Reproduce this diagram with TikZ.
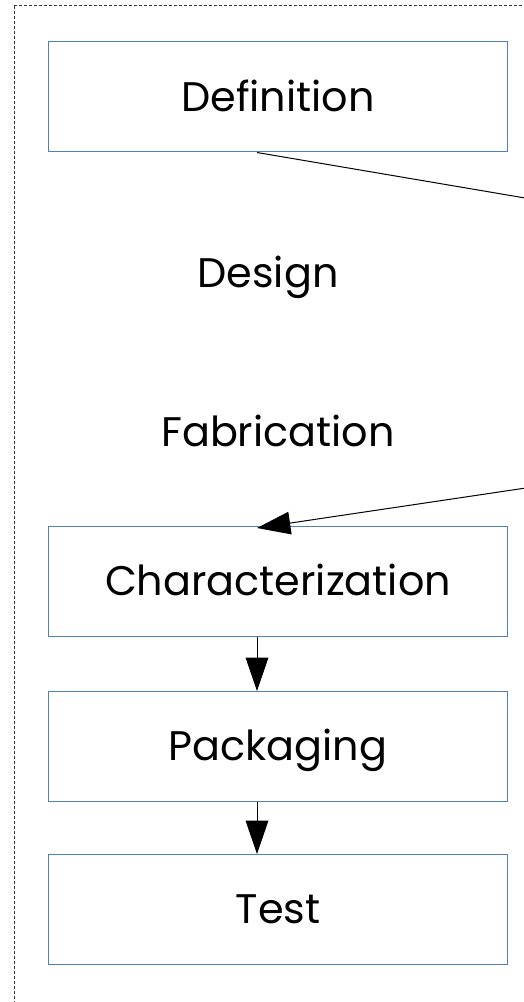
\documentclass[tikz,border=0pt]{standalone}
\usepackage{fontspec}
\setmainfont{Poppins}
\usetikzlibrary{arrows.meta,positioning}

\definecolor{boxblue}{RGB}{79,129,189}
\tikzset{
 stage/.style={draw=boxblue,line width=0.75pt,minimum width=344pt,minimum height=82.5pt,
  inner sep=0pt,text height=21.5pt,text depth=0pt,font=\fontsize{31}{36}\selectfont},
 label/.style={inner sep=0pt,text height=21.5pt,text depth=0pt,font=\fontsize{31}{36}\selectfont},
 flow/.style={line width=0.75pt,-{Triangle[length=25pt,width=17pt]}}
}

\begin{document}
\begin{tikzpicture}[x=0.75pt,y=-0.75pt]
 \useasboundingbox (0,0) rectangle (524,1002);
 \clip (0,0) rectangle (524,1002);

 % frame
 \draw[gray!40!black,line width=0.75pt,dash pattern=on 2.25pt off 1.5pt] (14,6) rectangle (700,1004);

 % boxes
 \node[stage] (defn) at (278,97) {Definition};
 \node[stage] (char) at (278,581.5) {Characterization};
 \node[stage,below=40.5pt of char] (pack) {Packaging};
 \node[stage,below=39pt of pack] (test) {Test};

 % labels
 \node[label] (design) at (268,273) {Design};
 \node[label] (fab) at (278,432) {Fabrication};

 % coordinates
 \coordinate (spine) at (257,0);
 \coordinate (out) at (640,217.5);
 \coordinate (in) at (640,471);

 % connectors
 \draw[line width=0.75pt] (defn.south -| spine) -- (out);
 \draw[flow] (in) -- ([yshift=-1.5pt]char.north -| spine);
 \draw[flow] (char.south -| spine) -- (pack.north -| spine);
 \draw[flow] (pack.south -| spine) -- (test.north -| spine);
\end{tikzpicture}
\end{document}
